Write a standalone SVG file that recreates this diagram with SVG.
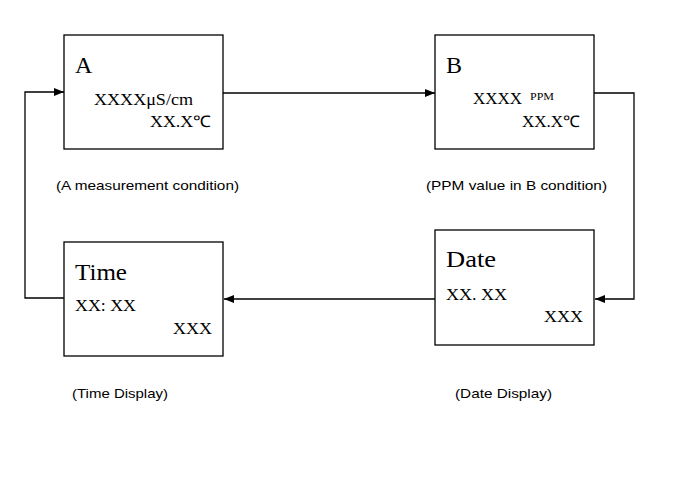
<svg xmlns="http://www.w3.org/2000/svg" width="676" height="487" viewBox="0 0 676 487">
<style>
.box{fill:#fff;stroke:#000;stroke-width:1.3}
.title{font-family:"Liberation Serif",serif;font-size:24px;fill:#000}
.val{font-family:"Liberation Serif",serif;font-size:16px;fill:#000}
.sup{font-family:"Liberation Serif",serif;font-size:10px;fill:#000}
.cap{font-family:"Liberation Sans",Arial,sans-serif;font-size:13px;fill:#000}
.conn{fill:none;stroke:#000;stroke-width:1.3}
</style>
<defs>
<marker id="arr" markerWidth="10" markerHeight="8" refX="10" refY="4" orient="auto" markerUnits="userSpaceOnUse">
<path d="M0,0 L10,4 L0,8 Z" fill="#000"/>
</marker>
</defs>
<rect width="676" height="487" fill="#fff"/>
<g id="connectors">
<path class="conn" d="M223,93 H435" marker-end="url(#arr)"/>
<path class="conn" d="M594,93 H634 V299 H595" marker-end="url(#arr)"/>
<path class="conn" d="M435,299 H224" marker-end="url(#arr)"/>
<path class="conn" d="M64,298 H25 V92 H64" marker-end="url(#arr)"/>
</g>
<g id="nodeA">
<rect class="box" x="64" y="35" width="159" height="114"/>
<text class="title" x="75" y="73">A</text>
<text class="val" x="94" y="105" textLength="99" lengthAdjust="spacingAndGlyphs">XXXXμS/cm</text>
<text class="val" x="150" y="127" textLength="61" lengthAdjust="spacingAndGlyphs">XX.X℃</text>
<text class="cap" x="56" y="190" textLength="183" lengthAdjust="spacingAndGlyphs">(A measurement condition)</text>
</g>
<g id="nodeB">
<rect class="box" x="435" y="35" width="159" height="114"/>
<text class="title" x="446" y="73">B</text>
<text class="val" x="473" y="104" textLength="49" lengthAdjust="spacingAndGlyphs">XXXX</text>
<text class="sup" x="530" y="100" textLength="24" lengthAdjust="spacingAndGlyphs">PPM</text>
<text class="val" x="522" y="127" textLength="58" lengthAdjust="spacingAndGlyphs">XX.X℃</text>
<text class="cap" x="426" y="190" textLength="181" lengthAdjust="spacingAndGlyphs">(PPM value in B condition)</text>
</g>
<g id="nodeDate">
<rect class="box" x="435" y="230" width="159" height="115"/>
<text class="title" x="446" y="267" textLength="50" lengthAdjust="spacingAndGlyphs">Date</text>
<text class="val" x="446" y="300" textLength="61" lengthAdjust="spacingAndGlyphs">XX. XX</text>
<text class="val" x="544" y="322" textLength="39" lengthAdjust="spacingAndGlyphs">XXX</text>
<text class="cap" x="455" y="398" textLength="97" lengthAdjust="spacingAndGlyphs">(Date Display)</text>
</g>
<g id="nodeTime">
<rect class="box" x="64" y="242" width="159" height="114"/>
<text class="title" x="75" y="280" textLength="52" lengthAdjust="spacingAndGlyphs">Time</text>
<text class="val" x="75" y="311" textLength="61" lengthAdjust="spacingAndGlyphs">XX: XX</text>
<text class="val" x="173" y="334" textLength="39" lengthAdjust="spacingAndGlyphs">XXX</text>
<text class="cap" x="72" y="398" textLength="96" lengthAdjust="spacingAndGlyphs">(Time Display)</text>
</g>
</svg>
